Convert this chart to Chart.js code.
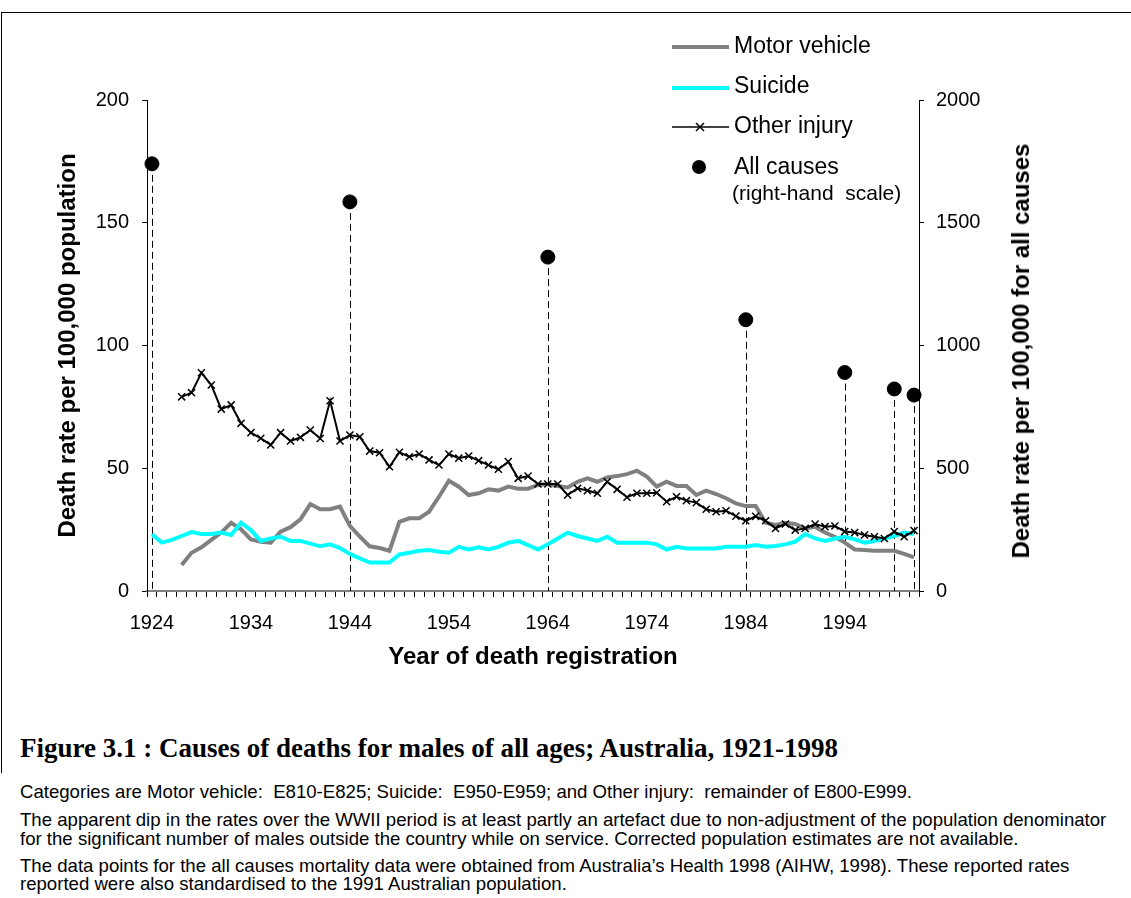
<!DOCTYPE html>
<html>
<head>
<meta charset="utf-8">
<script src="https://cdn.jsdelivr.net/npm/chart.js@4.4.1/dist/chart.umd.min.js"></script>
<style>
  body { margin: 0; background: #fff; font-family: "Liberation Sans", Arial, sans-serif; }
  #wrap { position: relative; width: 1131px; height: 898px; overflow: hidden; }
  #frame { position: absolute; left: 1px; top: 12px; width: 1140px; height: 760px; border-top: 1px solid #000; border-left: 1px solid #000; }
  #chart { position: absolute; left: 0; top: 0; }
  .lg { position: absolute; font-size: 23px; line-height: 26px; color: #000; white-space: pre; }
  .sym { position: absolute; }
  #rtitle { position: absolute; left: 1021px; top: 351px; font-weight: bold; font-size: 24px; white-space: nowrap;
            transform: translate(-50%, -50%) rotate(-90deg); }
  .cap { position: absolute; left: 20px; font-size: 18.6px; line-height: 19px; white-space: pre; color: #000; }
  #fig { position: absolute; left: 20px; top: 733px; line-height: 30px; font-family: "Liberation Serif", "Times New Roman", serif; font-weight: bold; font-size: 27px; white-space: nowrap; }
</style>
</head>
<body>
<div id="wrap">
  <div id="frame"></div>
  <canvas id="chart" width="1131" height="700"></canvas>

  <svg class="sym" style="left:672px;top:43px" width="58" height="8"><line x1="0" y1="4" x2="57" y2="4" stroke="#808080" stroke-width="4"/></svg>
  <div class="lg" style="left:734px;top:32px">Motor vehicle</div>
  <svg class="sym" style="left:672px;top:84px" width="58" height="8"><line x1="0" y1="4" x2="57" y2="4" stroke="#00ffff" stroke-width="4"/></svg>
  <div class="lg" style="left:734px;top:72px">Suicide</div>
  <svg class="sym" style="left:672px;top:121px" width="58" height="12"><line x1="0" y1="6" x2="57" y2="6" stroke="#000" stroke-width="1.5"/><path d="M24 2 L32 10 M32 2 L24 10" stroke="#000" stroke-width="1.5"/></svg>
  <div class="lg" style="left:734px;top:112px">Other injury</div>
  <svg class="sym" style="left:691px;top:159px" width="16" height="16"><circle cx="8" cy="8" r="7" fill="#000"/></svg>
  <div class="lg" style="left:734px;top:153px">All causes</div>
  <div class="lg" style="left:732px;top:180px;font-size:21px">(right-hand  scale)</div>

  <div id="rtitle">Death rate per 100,000 for all causes</div>

  <div id="fig">Figure 3.1 : Causes of deaths for males of all ages; Australia, 1921-1998</div>
  <div class="cap" style="top:782px">Categories are Motor vehicle:  E810-E825; Suicide:  E950-E959; and Other injury:  remainder of E800-E999.</div>
  <div class="cap" style="top:810px">The apparent dip in the rates over the WWII period is at least partly an artefact due to non-adjustment of the population denominator</div>
  <div class="cap" style="top:829px">for the significant number of males outside the country while on service. Corrected population estimates are not available.</div>
  <div class="cap" style="top:856px">The data points for the all causes mortality data were obtained from Australia’s Health 1998 (AIHW, 1998). These reported rates</div>
  <div class="cap" style="top:874px">reported were also standardised to the 1991 Australian population.</div>
</div>

<script>
// categories
var years = [1924, 1925, 1926, 1927, 1928, 1929, 1930, 1931, 1932, 1933,
  1934, 1935, 1936, 1937, 1938, 1939, 1940, 1941, 1942, 1943,
  1944, 1945, 1946, 1947, 1948, 1949, 1950, 1951, 1952, 1953,
  1954, 1955, 1956, 1957, 1958, 1959, 1960, 1961, 1962, 1963,
  1964, 1965, 1966, 1967, 1968, 1969, 1970, 1971, 1972, 1973,
  1974, 1975, 1976, 1977, 1978, 1979, 1980, 1981, 1982, 1983,
  1984, 1985, 1986, 1987, 1988, 1989, 1990, 1991, 1992, 1993,
  1994, 1995, 1996, 1997, 1998, 1999, 2000, 2001];

// rates per 100,000 (left scale)
var motorVehicle = [null, null, null, 10.6, 15.6, 17.8, 20.8, 23.8, 27.8, 25.1,
  21.0, 20.1, 19.7, 24.2, 26.0, 29.2, 35.4, 33.3, 33.3, 34.4,
  26.5, 22.2, 18.2, 17.5, 16.4, 28.2, 29.6, 29.6, 32.3, 38.4,
  44.9, 42.5, 39.1, 39.8, 41.4, 40.9, 42.5, 41.7, 41.7, 43.2,
  43.6, 42.8, 42.2, 44.5, 45.9, 44.5, 46.3, 46.8, 47.6, 49.0,
  46.6, 42.5, 44.5, 42.8, 42.8, 39.1, 40.9, 39.5, 37.8, 35.7,
  34.6, 34.6, 27.8, 26.9, 27.8, 27.3, 25.5, 26.2, 23.8, 22.1,
  19.7, 16.9, 16.7, 16.4, 16.4, 16.4, 15.1, 13.7];

var suicide = [23.1, 19.7, 20.8, 22.4, 24.0, 23.2, 23.2, 23.8, 22.8, 27.8,
  24.8, 20.4, 21.4, 22.1, 20.4, 20.4, 19.3, 18.2, 19.0, 17.5,
  15.1, 13.3, 11.6, 11.6, 11.6, 14.9, 15.6, 16.4, 16.7, 16.0,
  15.6, 18.0, 16.9, 17.8, 16.9, 18.0, 19.7, 20.4, 18.7, 16.9,
  19.0, 21.4, 23.8, 22.4, 21.4, 20.4, 22.1, 19.7, 19.7, 19.7,
  19.7, 19.0, 16.9, 18.0, 17.3, 17.3, 17.3, 17.3, 18.0, 18.0,
  18.0, 18.7, 18.0, 18.3, 19.0, 20.1, 23.2, 21.4, 20.4, 21.4,
  22.1, 21.0, 19.7, 20.4, 21.4, 22.4, 23.8, 23.2];

var otherInjury = [null, null, null, 79.1, 80.8, 88.9, 83.9, 74.1, 75.8, 68.3,
  64.5, 62.2, 59.5, 64.5, 61.1, 62.6, 65.6, 62.1, 77.5, 61.1,
  63.5, 62.8, 57.0, 56.3, 50.6, 56.5, 54.7, 55.8, 53.4, 51.3,
  55.8, 54.1, 55.0, 53.1, 51.3, 49.6, 52.7, 45.9, 46.8, 43.6,
  43.6, 43.6, 39.1, 41.8, 40.9, 39.8, 44.5, 41.4, 38.2, 39.8,
  39.8, 40.0, 36.4, 38.4, 36.8, 36.0, 33.3, 32.3, 32.7, 30.5,
  28.6, 30.4, 28.6, 25.5, 27.3, 24.8, 25.5, 27.3, 26.2, 26.5,
  24.2, 23.8, 22.8, 22.1, 21.4, 24.2, 22.1, 24.6];

// all causes (right scale)
var allCausesYears = [1924, 1944, 1964, 1984, 1994, 1999, 2001];
var allCausesRates = [1740, 1585, 1360, 1105, 890, 823, 798];

// tick labels
var leftTicks = [0, 50, 100, 150, 200];
var rightTicks = [0, 500, 1000, 1500, 2000];

var allCauses = years.map(function(y) {
  var i = allCausesYears.indexOf(y);
  return i >= 0 ? allCausesRates[i] : null;
});

var FONT = '"Liberation Sans", Arial, sans-serif';

// dashed drop lines from the all causes points to the axis
var dropLines = {
  id: 'dropLines',
  beforeDatasetsDraw: function(chart) {
    var meta = chart.getDatasetMeta(3);
    var ctx = chart.ctx;
    var bottom = chart.chartArea.bottom;
    ctx.save();
    ctx.strokeStyle = '#000';
    ctx.lineWidth = 1;
    ctx.setLineDash([7, 4]);
    meta.data.forEach(function(pt, i) {
      if (allCauses[i] === null) return;
      ctx.beginPath();
      ctx.moveTo(Math.round(pt.x) + 0.5, pt.y);
      ctx.lineTo(Math.round(pt.x) + 0.5, bottom);
      ctx.stroke();
    });
    ctx.restore();
  }
};

var ctx = document.getElementById('chart').getContext('2d');
var chart = new Chart(ctx, {
  type: 'line',
  data: {
    labels: years,
    datasets: [{
      label: 'Motor vehicle',
      data: motorVehicle,
      borderColor: '#808080',
      borderWidth: 4,
      pointRadius: 0,
      order: 3,
      yAxisID: 'y'
    }, {
      label: 'Suicide',
      data: suicide,
      borderColor: '#00ffff',
      borderWidth: 4,
      pointRadius: 0,
      order: 2,
      yAxisID: 'y'
    }, {
      label: 'Other injury',
      data: otherInjury,
      borderColor: '#000',
      borderWidth: 2,
      pointStyle: 'crossRot',
      pointRadius: 5,
      pointBorderWidth: 1.5,
      pointBorderColor: '#000',
      order: 1,
      yAxisID: 'y'
    }, {
      label: 'All causes',
      data: allCauses,
      showLine: false,
      pointRadius: 7,
      pointBackgroundColor: '#000',
      pointBorderColor: '#000',
      clip: false,
      order: 0,
      yAxisID: 'y2'
    }]
  },
  options: {
    responsive: false,
    animation: false,
    devicePixelRatio: 1,
    layout: { padding: { top: 100, left: 0, right: 0, bottom: 0 } },
    plugins: { legend: { display: false }, tooltip: { enabled: false } },
    elements: { line: { tension: 0 } },
    scales: {
      x: {
        offset: true,
        grid: { offset: true, drawOnChartArea: false, tickLength: 6, color: '#000' },
        border: { color: '#808080', width: 2 },
        ticks: {
          autoSkip: false,
          maxRotation: 0,
          padding: 14,
          color: '#000',
          font: { family: FONT, size: 20 },
          callback: function(value, index) {
            var y = years[index];
            return (y - 1924) % 10 === 0 ? String(y) : '';
          }
        },
        title: {
          display: true,
          text: 'Year of death registration',
          color: '#000',
          font: { family: FONT, size: 24, weight: 'bold' },
          padding: { top: 0, bottom: 28.6 }
        },
        afterFit: function(scale) { scale.height = 109; }
      },
      y: {
        position: 'left',
        min: 0,
        max: 200,
        afterBuildTicks: function(scale) {
          scale.ticks = leftTicks.map(function(v) { return { value: v }; });
        },
        grid: { drawOnChartArea: false, tickLength: 5, color: '#000' },
        border: { color: '#000', width: 1 },
        ticks: {
          padding: 13,
          color: '#000',
          font: { family: FONT, size: 20 },
          callback: function(value) { return String(value); }
        },
        title: {
          display: true,
          text: 'Death rate per 100,000 population',
          color: '#000',
          font: { family: FONT, size: 24, weight: 'bold' },
          padding: { top: 53.6, bottom: 0 }
        },
        afterFit: function(scale) { scale.width = 147; }
      },
      y2: {
        position: 'right',
        min: 0,
        max: 2000,
        afterBuildTicks: function(scale) {
          scale.ticks = rightTicks.map(function(v) { return { value: v }; });
        },
        grid: { drawOnChartArea: false, tickLength: 5, color: '#000' },
        border: { color: '#000', width: 1 },
        ticks: {
          padding: 12,
          color: '#000',
          font: { family: FONT, size: 20 },
          callback: function(value) { return String(value); }
        },
        afterFit: function(scale) { scale.width = 212; }
      }
    }
  },
  plugins: [dropLines]
});
</script>
</body>
</html>
